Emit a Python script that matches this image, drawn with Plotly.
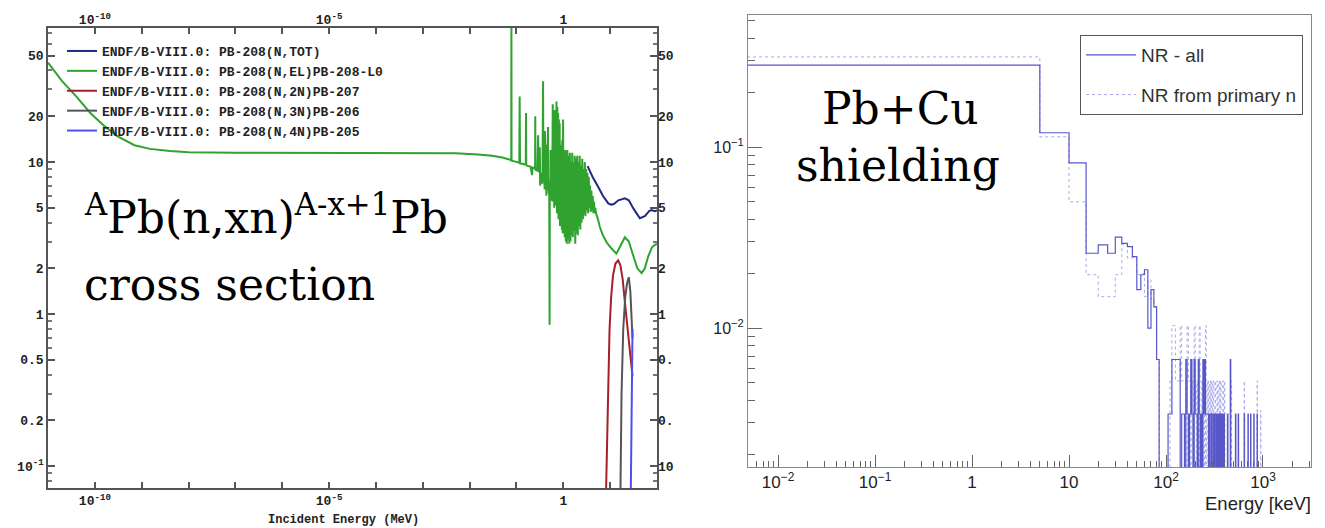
import numpy as np
import plotly.graph_objects as go

# ---------------- Left panel: ENDF/B-VIII.0 Pb-208 cross sections (MeV, barn) ----------------
el_E = [1e-11, 2e-11, 4e-11, 8e-11, 1.5e-10, 3e-10, 7e-10, 1.5e-9, 4e-9, 1e-8, 1e-7, 1e-5, 1e-3, 5e-3,
        0.015, 0.03, 0.05, 0.07,
        0.0775, 0.078, 0.0785, 0.09, 0.1, 0.115, 0.117, 0.119, 0.14, 0.158, 0.16, 0.162, 0.2, 0.215,
        0.22, 0.25, 0.252, 0.254, 0.28, 0.29, 0.295, 0.31, 0.315, 0.32, 0.33, 0.355, 0.36, 0.37, 0.375,
        0.39, 0.40, 0.405, 0.41, 0.425, 0.43, 0.435,
        0.44, 0.455, 0.46, 0.47, 0.475, 0.49, 0.50, 0.51, 0.515, 0.53, 0.535, 0.54, 0.55,
        0.565, 0.58, 0.595, 0.61, 0.625, 0.64, 0.655, 0.67, 0.685, 0.70, 0.715, 0.73, 0.745, 0.76,
        0.775, 0.79, 0.805, 0.82, 0.835, 0.85, 0.87, 0.89, 0.91, 0.93, 0.95, 0.97, 0.99, 1.01, 1.04,
        1.07, 1.10, 1.13, 1.16, 1.19, 1.22, 1.26, 1.30, 1.34, 1.38, 1.42, 1.46, 1.50, 1.55, 1.60,
        1.65, 1.70, 1.75, 1.80, 1.86, 1.92, 1.98, 2.04, 2.10, 2.17, 2.24, 2.31, 2.38, 2.46, 2.54,
        2.62, 2.70, 2.79, 2.88, 2.97, 3.07, 3.17, 3.27, 3.38, 3.49, 3.60, 3.72, 3.84, 3.97, 4.10,
        4.24, 4.38, 4.52, 4.67, 4.82, 5.0,
        5.5, 6.0, 7.0, 8.5, 10.7, 13.6, 16.0, 20.6, 25.0, 30.0, 38.0, 47.0, 55.0, 65.0, 78.0, 90.0, 100.0]
el_xs = [45, 34, 27, 21, 17.5, 14.8, 12.9, 12.2, 11.8, 11.6, 11.5, 11.5, 11.5, 11.4,
         11.2, 11.0, 10.7, 10.4,
         10.3, 95, 10.2, 10.1, 10.0, 9.9, 27, 9.8, 9.7, 9.6, 21, 9.5, 9.3, 8.2,
         9.2, 9.1, 20, 8.9, 8.8, 15, 8.7, 8.6, 12.5, 7.0, 8.5, 7.2, 8.4, 34, 8.3,
         8.2, 6.6, 16, 8.0, 7.9, 13, 6.0,
         7.8, 6.5, 7.7, 17, 7.6, 6.2, 7.5, 0.85, 7.4, 7.2, 12, 5.6, 7.0,
         12, 5.5, 24, 6.5, 14, 5.0, 22, 5.8, 18, 5.2, 25, 4.6, 23, 5.0,
         21, 4.2, 19, 4.5, 18, 3.8, 13, 4.0, 12, 3.6, 14, 3.4, 19, 3.5, 11,
         3.2, 12, 3.0, 10.5, 2.9, 12, 3.1, 11, 2.9, 11.5, 3.0, 10, 3.3, 11.5, 3.2,
         10, 3.5, 11, 2.9, 10.5, 3.4, 11, 3.3, 10, 3.8, 11, 3.6, 9.5, 4.0, 10.5,
         4.2, 9.0, 4.5, 10, 4.4, 9.0, 4.8, 8.5, 4.6, 8.0, 5.0, 7.0, 4.7, 6.5, 4.8,
         6.0, 4.6, 5.5, 4.6, 5.0, 4.6,
         4.2, 3.75, 3.3, 2.95, 2.7, 2.5, 2.75, 3.2, 3.0, 2.5, 2.0, 1.86, 2.0, 2.4, 2.75, 2.85, 2.9]

tot_E = [3.3, 4.2, 5.5, 7.0, 9.1, 10.5, 12.0, 15.0, 20.6, 25.0, 32.0, 43.0, 55.0, 68.0, 77.0, 89.0, 100.0]
tot_xs = [9.4, 8.0, 6.9, 6.0, 5.35, 5.25, 5.3, 5.6, 5.77, 5.6, 4.9, 4.27, 4.4, 4.75, 4.83, 4.75, 4.8]

n2n_E = [8.0, 9.0, 9.7, 10.5, 11.5, 13.0, 14.8, 16.5, 18.5, 20.4, 23.0, 26.0, 30.0]
n2n_xs = [0.05, 0.3, 0.79, 1.3, 1.8, 2.15, 2.26, 2.1, 1.7, 1.24, 0.85, 0.6, 0.39]
n3n_E = [16.4, 17.5, 19.0, 21.0, 23.0, 25.0, 27.0, 28.6, 30.0]
n3n_xs = [0.05, 0.3, 0.79, 1.3, 1.6, 1.75, 1.4, 1.0, 0.7]
n4n_E = [27.3, 28.5, 29.3, 30.0]
n4n_xs = [0.05, 0.2, 0.45, 0.8]

left_names = ["ENDF/B-VIII.0: PB-208(N,TOT)", "ENDF/B-VIII.0: PB-208(N,EL)PB-208-L0",
              "ENDF/B-VIII.0: PB-208(N,2N)PB-207", "ENDF/B-VIII.0: PB-208(N,3N)PB-206",
              "ENDF/B-VIII.0: PB-208(N,4N)PB-205"]
left_colors = ["#1f2a80", "#2fa22f", "#a81e2a", "#555555", "#4f4ff0"]

left_xtick_vals = [1e-10, 1e-5, 1]
left_xtick_text = ["10<sup>-10</sup>", "10<sup>-5</sup>", "1"]
left_xminor = [1e-11, 1e-9, 1e-8, 1e-7, 1e-6, 1e-4, 1e-3, 1e-2, 1e-1, 10, 100]
left_ytick_vals = [0.1, 0.2, 0.5, 1, 2, 5, 10, 20, 50]
left_ytick_text = ["10<sup>-1</sup>", "0.2", "0.5", "1", "2", "5", "10", "20", "50"]
right_side_ytick_text = ["10", "0.", "0.", "1", "2", "5", "10", "20", "50"]
left_yminor = [0.08, 0.09, 0.3, 0.4, 0.6, 0.7, 0.8, 0.9, 3, 4, 6, 7, 8, 9, 30, 40, 60, 70]

# ---------------- Right panel: nuclear-recoil spectrum, 5 keV bins ----------------
bin_width_kev = 5
nr_all_first = [0.284, 0.120, 0.0817, 0.0259, 0.0288, 0.0259, 0.0318, 0.0294, 0.0282, 0.0248,
                0.0163, 0.0197, 0.0210, 0.0100, 0.0163, 0.0131, 0.0067, 0.0, 0.0, 0.0]
nr_prim_first = [0.315, 0.114, 0.0498, 0.0197, 0.0149, 0.0149, 0.0197, 0.0290, 0.0244, 0.0245,
                 0.0197, 0.0200, 0.0149, 0.0185, 0.0145, 0.0131, 0.0067, 0.0, 0.0, 0.0]
nr_all_tail_kev = [105, 110, 115, 120, 125, 130, 135, 145, 150, 160, 165, 175, 180, 185, 195, 200, 205,
                   215, 220, 230, 240, 245, 250, 255, 260, 265, 270, 280, 285, 295, 300, 310, 320, 325,
                   335, 345, 355, 365, 380, 395, 430, 460, 520, 555, 640, 700, 745, 805, 870]
nr_all_tail_val = [0.00335, 0.00335, 0.0067, 0.0067, 0.0067, 0.0067, 0.0067, 0.00335, 0.00335, 0.0067,
                   0.00335, 0.00335, 0.0067, 0.00335, 0.0067, 0.00335, 0.00335, 0.0067, 0.00335,
                   0.00335, 0.0067, 0.00335, 0.0067, 0.00335, 0.00335, 0.00335, 0.00335, 0.00335,
                   0.00335, 0.00335, 0.00335, 0.00335, 0.00335, 0.00335, 0.00335, 0.00335, 0.00335,
                   0.00335, 0.00335, 0.00335, 0.00335, 0.0067, 0.00335, 0.00335, 0.00335, 0.00335,
                   0.00335, 0.00335, 0.00335]
nr_prim_tail_kev = [110, 115, 120, 125, 130, 135, 140, 145, 150, 155, 165, 170, 175, 185, 195, 200, 210,
                    220, 225, 235, 245, 255, 265, 275, 285, 295, 305, 320, 335, 350, 365, 385, 400, 470,
                    640, 870, 945]
nr_prim_tail_val = [0.0051, 0.0103, 0.0103, 0.0051, 0.0051, 0.0051, 0.0103, 0.0051, 0.0051, 0.0051,
                    0.0103, 0.0051, 0.0051, 0.0051, 0.0103, 0.0051, 0.0051, 0.0103, 0.0051, 0.0051,
                    0.0051, 0.0103, 0.0051, 0.0051, 0.0051, 0.0051, 0.0051, 0.0051, 0.0051, 0.0051,
                    0.0051, 0.0051, 0.0051, 0.0051, 0.0051, 0.0051, 0.0035]
n_bins = 200

right_xtick_vals = [0.01, 0.1, 1, 10, 100, 1000]
right_xtick_text = ["10<sup>\u22122</sup>", "10<sup>\u22121</sup>", "1", "10", "10<sup>2</sup>", "10<sup>3</sup>"]
right_xminor = [m * d for d in [0.001, 0.01, 0.1, 1, 10, 100, 1000] for m in range(2, 10)]
right_ytick_vals = [0.01, 0.1]
right_ytick_text = ["10<sup>\u22122</sup>", "10<sup>\u22121</sup>"]
right_yminor = [m * d for d in [0.001, 0.01, 0.1] for m in range(2, 10)]
right_legend_names = ["NR - all", "NR from primary n"]


def build_hist(first, tail_kev, tail_val):
    vals = np.zeros(n_bins)
    vals[:len(first)] = first
    for e, v in zip(tail_kev, tail_val):
        vals[int(e // bin_width_kev)] = v
    edges = np.arange(n_bins + 1) * float(bin_width_kev)
    edges[0] = 1e-3
    y = np.append(vals, 0.0)
    y = np.where(y > 0, y, 1e-5)
    return edges, y


W, H = 1325, 528
def px(x):
    return x / W
def py(y):
    return 1 - y / H

fig = go.Figure()

mono = "Liberation Mono"
serif = "DejaVu Serif"
sans = "Liberation Sans"

series = [(el_E, el_xs, 1), (n2n_E, n2n_xs, 2), (n3n_E, n3n_xs, 3), (n4n_E, n4n_xs, 4), (tot_E, tot_xs, 0)]
for E, xs, i in series:
    fig.add_trace(go.Scatter(x=E, y=xs, mode="lines", name=left_names[i], legendrank=i + 1,
                             line=dict(color=left_colors[i], width=2), xaxis="x", yaxis="y",
                             legend="legend", hoverinfo="skip"))
# carrier for the mirrored label axes (invisible)
fig.add_trace(go.Scatter(x=tot_E, y=tot_xs, mode="lines", line=dict(width=0), opacity=0,
                         xaxis="x3", yaxis="y3", showlegend=False, hoverinfo="skip"))

ex, ya = build_hist(nr_prim_first, nr_prim_tail_kev, nr_prim_tail_val)
fig.add_trace(go.Scatter(x=ex, y=ya, mode="lines", line_shape="hv", name=right_legend_names[1],
                         legendrank=2, legendgroup="b",
                         line=dict(color="#a9a9ee", width=1, dash="dot"), xaxis="x2", yaxis="y2",
                         legend="legend2", hoverinfo="skip"))
ex, yb = build_hist(nr_all_first, nr_all_tail_kev, nr_all_tail_val)
fig.add_trace(go.Scatter(x=ex, y=yb, mode="lines", line_shape="hv", name=right_legend_names[0],
                         legendrank=1, legendgroup="a",
                         line=dict(color="#5757c8", width=1.2), xaxis="x2", yaxis="y2",
                         legend="legend2", hoverinfo="skip"))

lfont = dict(family=mono, size=13, color="#222", weight="bold")
fig.update_layout(
    width=W, height=H, margin=dict(l=0, r=0, t=0, b=0, autoexpand=False),
    paper_bgcolor="white", plot_bgcolor="white",
    xaxis=dict(domain=[px(48), px(657)], anchor="y", type="log", range=[-11, 2],
               showline=True, linecolor="#555", linewidth=1.5, mirror="ticks",
               ticks="inside", ticklen=6, tickcolor="#555", tickwidth=1.5,
               tickvals=left_xtick_vals, ticktext=left_xtick_text, tickfont=lfont,
               minor=dict(tickvals=left_xminor, ticks="inside", ticklen=6, tickcolor="#555", tickwidth=1.5),
               showgrid=False, zeroline=False),
    yaxis=dict(domain=[py(488), py(28)], anchor="x", type="log", range=[-1.143, 1.881],
               showline=True, linecolor="#555", linewidth=1.5, mirror="ticks",
               ticks="inside", ticklen=7, tickcolor="#555", tickwidth=1.5,
               tickvals=left_ytick_vals, ticktext=left_ytick_text, tickfont=lfont,
               minor=dict(tickvals=left_yminor, ticks="inside", ticklen=4, tickcolor="#777"),
               showgrid=False, zeroline=False),
    xaxis3=dict(overlaying="x", side="top", anchor="y3", type="log", range=[-11, 2],
                showline=False, ticks="", tickvals=left_xtick_vals, ticktext=left_xtick_text,
                tickfont=lfont, showgrid=False, zeroline=False),
    yaxis3=dict(overlaying="y", side="right", anchor="x3", type="log", range=[-1.143, 1.881],
                showline=False, ticks="", tickvals=left_ytick_vals, ticktext=right_side_ytick_text,
                tickfont=lfont, showgrid=False, zeroline=False),
    xaxis2=dict(domain=[px(748), px(1311)], anchor="y2", type="log", range=[-2.31, 3.495],
                showline=True, linecolor="#888", linewidth=1, mirror=True,
                ticks="inside", ticklen=12, tickcolor="#666",
                tickvals=right_xtick_vals, ticktext=right_xtick_text,
                tickfont=dict(family=sans, size=17, color="#222"),
                minor=dict(tickvals=right_xminor, ticks="inside", ticklen=6, tickcolor="#666"),
                showgrid=False, zeroline=False),
    yaxis2=dict(domain=[py(467), py(15)], anchor="x2", type="log", range=[-2.768, -0.27],
                showline=True, linecolor="#888", linewidth=1, mirror=True,
                ticks="inside", ticklen=14, tickcolor="#666",
                tickvals=right_ytick_vals, ticktext=right_ytick_text,
                tickfont=dict(family=sans, size=16, color="#222"),
                minor=dict(tickvals=right_yminor, ticks="inside", ticklen=7, tickcolor="#666"),
                showgrid=False, zeroline=False),
    legend=dict(x=px(62), y=py(36), xanchor="left", yanchor="top", bgcolor="rgba(0,0,0,0)",
                borderwidth=0, font=dict(family=mono, size=13, color="#222", weight="bold"),
                tracegroupgap=0),
    legend2=dict(x=px(1080), y=py(35), xanchor="left", yanchor="top", bgcolor="white",
                 bordercolor="#555", borderwidth=1, font=dict(family=sans, size=19, color="#333"),
                 tracegroupgap=12, itemwidth=50),
)

ann = [
    dict(text="Incident Energy (MeV)", x=px(343), y=py(520), font=dict(family=mono, size=12, color="#222", weight="bold"),
         xanchor="center", yanchor="middle"),
    dict(text="Energy [keV]", x=px(1313), y=py(503), font=dict(family=sans, size=18.5, color="#222"),
         xanchor="right", yanchor="middle"),
    dict(text="<sup>A</sup>Pb(n,xn)<sup>A-x+1</sup>Pb", x=px(82), y=py(214),
         font=dict(family=serif, size=44, color="black"), xanchor="left", yanchor="middle"),
    dict(text="cross section", x=px(82), y=py(284),
         font=dict(family=serif, size=44, color="black"), xanchor="left", yanchor="middle"),
    dict(text="Pb+Cu", x=px(900), y=py(108),
         font=dict(family=serif, size=44, color="black"), xanchor="center", yanchor="middle"),
    dict(text="shielding", x=px(898), y=py(165),
         font=dict(family=serif, size=44, color="black"), xanchor="center", yanchor="middle"),
]
for a in ann:
    a.update(xref="paper", yref="paper", showarrow=False)
fig.update_layout(annotations=ann)

fig.write_html("out.html")
